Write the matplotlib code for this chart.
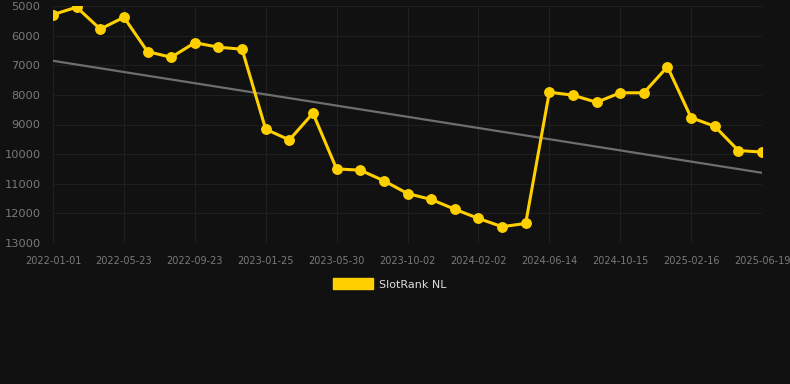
import numpy as np
from matplotlib import pyplot as plt
from matplotlib.patches import Patch

# rank values, one point every ~47 days (tick labels every 3rd point)
ranks = [5290, 5040, 5780, 5380, 6540, 6730, 6240, 6390, 6460, 9160,
         9520, 8620, 10500, 10540, 10900, 11330, 11530, 11860, 12170, 12450,
         12340, 7910, 8010, 8250, 7930, 7930, 7050, 8770, 9060, 9880,
         9930]
tick_labels = ['2022-01-01', '2022-05-23', '2022-09-23', '2023-01-25', '2023-05-30',
               '2023-10-02', '2024-02-02', '2024-06-14', '2024-10-15', '2025-02-16',
               '2025-06-19']
trend = [6850, 10630]  # start / end of the trend line

bg = '#111111'
yellow = '#FFD000'

fig = plt.figure(figsize=(7.9, 3.84), dpi=100, facecolor=bg)
ax = fig.add_axes([53/790, 1 - 243/384, (762-53)/790, (243-6)/384])
ax.set_facecolor(bg)

x = np.arange(len(ranks))
ax.plot([x[0], x[-1]], trend, color='#6e6e6e', lw=1.6, zorder=2)
ax.plot(x, ranks, color=yellow, lw=2.2, marker='o', markersize=6.8, zorder=3)

ax.set_xlim(0, len(ranks) - 1)
ax.set_ylim(13000, 5000)
ax.set_yticks(range(5000, 13001, 1000))
ax.set_xticks(x[::3])
ax.set_xticklabels(tick_labels)

ax.grid(True, color='#1f1f1f', lw=0.8)
ax.axhline(13000, color='#2a2a2a', lw=0.8, zorder=1)
ax.set_axisbelow(True)
for s in ax.spines.values():
    s.set_visible(False)
ax.tick_params(axis='x', colors='#7a7a7a', labelsize=7, length=0, pad=9)
ax.tick_params(axis='y', colors='#7a7a7a', labelsize=8.2, length=0, pad=9)

fig.legend(handles=[Patch(color=yellow, label='SlotRank NL')], loc='center',
           bbox_to_anchor=(390/790, 1 - 284/384), frameon=False, fontsize=8,
           labelcolor='#dddddd', handlelength=3.6, handleheight=1.1,
           handletextpad=0.5)

fig.savefig('out.png', dpi=100, facecolor=bg)
